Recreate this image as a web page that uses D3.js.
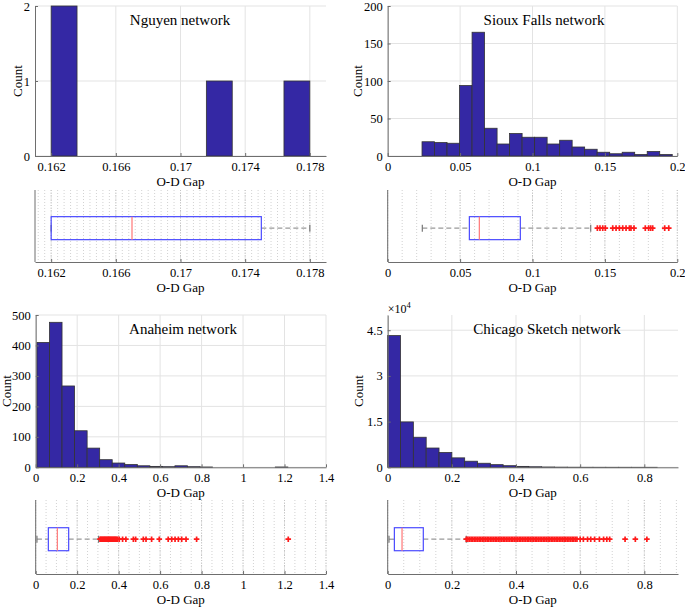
<!DOCTYPE html>
<html>
<head>
<meta charset="utf-8">
<script src="https://cdn.jsdelivr.net/npm/d3@7"></script>
<style>
body { margin: 0; background: #fff; }
</style>
</head>
<body>
<div id="chart"></div>
<script>
// histogram counts, equal width bins
var nguyenCounts = [2, 0, 0, 0, 0, 0, 1, 0, 0, 1];
var nguyenBinStart = 0.162, nguyenBinWidth = 0.0016;
var siouxCounts = [19, 18, 17, 94, 165, 37, 16, 30, 25, 25, 16, 21, 12, 9, 5, 3, 5, 2, 6, 2];
var siouxBinStart = 0.0237, siouxBinWidth = 0.00864;
var anaheimCounts = [410, 476, 267, 120, 63, 25, 14, 9, 5, 3, 2, 5, 2, 1, 0, 0, 0, 0, 0, 1];
var anaheimBinStart = 0.006, anaheimBinWidth = 0.0605;
var chicagoCounts = [43250, 14900, 9870, 6330, 4870, 3100, 2000, 1330, 870, 530, 300, 180, 100, 50, 25, 12, 6, 3, 2, 1, 1];
var chicagoBinStart = 0, chicagoBinWidth = 0.04;

// boxplot stats: lower whisker, q1, median, q3, upper whisker
var nguyenBox = [0.162, 0.162, 0.167, 0.175, 0.178];
var siouxBox = [0.0239, 0.0564, 0.0633, 0.0916, 0.1402];
var anaheimBox = [0.006, 0.061, 0.1045, 0.159, 0.303];
var chicagoBox = [0.004, 0.0208, 0.0447, 0.111, 0.245];

// outliers
var nguyenOut = [];
var siouxOut = [0.1448, 0.1466, 0.1485, 0.1503, 0.1554, 0.1577, 0.160, 0.1623, 0.1646, 0.1669, 0.168, 0.1701,
    0.1779, 0.1802, 0.1816, 0.183, 0.1913, 0.1941];
var anaheimOut = [0.31, 0.314, 0.318, 0.322, 0.326, 0.33, 0.334, 0.338, 0.342, 0.346, 0.35, 0.354, 0.358, 0.362,
    0.366, 0.37, 0.374, 0.378, 0.382, 0.386, 0.39, 0.395, 0.403, 0.419, 0.435, 0.471, 0.482, 0.519, 0.532,
    0.559, 0.596, 0.639, 0.656, 0.672, 0.688, 0.704, 0.725, 0.776, 1.218];
var chicagoOut = [0.245, 0.25, 0.255, 0.26, 0.265, 0.27, 0.275, 0.28, 0.285, 0.29, 0.295, 0.3, 0.305, 0.31,
    0.315, 0.32, 0.325, 0.33, 0.335, 0.34, 0.345, 0.35, 0.355, 0.36, 0.365, 0.37, 0.375, 0.38, 0.385, 0.39,
    0.395, 0.4, 0.405, 0.41, 0.415, 0.42, 0.425, 0.43, 0.435, 0.44, 0.445, 0.45, 0.455, 0.46, 0.465, 0.47,
    0.475, 0.48, 0.485, 0.49, 0.495, 0.5, 0.505, 0.51, 0.515, 0.52, 0.525, 0.53, 0.535, 0.54, 0.545, 0.55,
    0.555, 0.56, 0.565, 0.57, 0.575, 0.58, 0.585, 0.59, 0.600, 0.610, 0.623, 0.633, 0.645, 0.660, 0.673,
    0.683, 0.692, 0.740, 0.772, 0.808];

// tick values and labels
var nguyenXTicks = [0.162, 0.166, 0.17, 0.174, 0.178];
var nguyenYTicks = [0, 1, 2];
var siouxXTicks = [0, 0.05, 0.1, 0.15, 0.2];
var siouxYTicks = [0, 50, 100, 150, 200];
var anaheimXTicks = [0, 0.2, 0.4, 0.6, 0.8, 1, 1.2, 1.4];
var anaheimYTicks = [0, 100, 200, 300, 400, 500];
var chicagoXTicks = [0, 0.2, 0.4, 0.6, 0.8];
var chicagoYTicks = [0, 15000, 30000, 45000];
var chicagoYLabels = ["0", "1.5", "3", "4.5"];

var titles = ["Nguyen network", "Sioux Falls network", "Anaheim network", "Chicago Sketch network"];

var width = 685, height = 607;
var serif = '"Liberation Serif", "DejaVu Serif", "Times New Roman", serif';
var svg = d3.select('#chart').append('svg')
    .attr('width', width)
    .attr('height', height)
    .attr('font-family', serif);

var barFill = '#3428a4', axisCol = '#6e6e6e';

var panels = [
    { title: titles[0], titleX: 180, counts: nguyenCounts, b0: nguyenBinStart, bw: nguyenBinWidth,
      box: nguyenBox, out: nguyenOut, xt: nguyenXTicks, yt: nguyenYTicks, yl: null,
      xdom: [0.161, 0.179], ydom: [0, 2], minor: 0.0004,
      x0: 35, x1: 326, hy0: 6, hy1: 156, by0: 190, by1: 262, countX: 22 },
    { title: titles[1], titleX: 544, counts: siouxCounts, b0: siouxBinStart, bw: siouxBinWidth,
      box: siouxBox, out: siouxOut, xt: siouxXTicks, yt: siouxYTicks, yl: null,
      xdom: [0, 0.2], ydom: [0, 200], minor: 0.01,
      x0: 387.7, x1: 677.3, hy0: 6, hy1: 156, by0: 190, by1: 262, countX: 362 },
    { title: titles[2], titleX: 183, counts: anaheimCounts, b0: anaheimBinStart, bw: anaheimBinWidth,
      box: anaheimBox, out: anaheimOut, xt: anaheimXTicks, yt: anaheimYTicks, yl: null,
      xdom: [0, 1.4], ydom: [0, 500], minor: 0.05,
      x0: 35.7, x1: 326, hy0: 315, hy1: 467.3, by0: 500, by1: 574, countX: 11 },
    { title: titles[3], titleX: 547, counts: chicagoCounts, b0: chicagoBinStart, bw: chicagoBinWidth,
      box: chicagoBox, out: chicagoOut, xt: chicagoXTicks, yt: chicagoYTicks, yl: chicagoYLabels,
      xdom: [0, 0.905], ydom: [0, 50000], minor: 0.05,
      x0: 387.7, x1: 678, hy0: 315, hy1: 467.3, by0: 500, by1: 574, countX: 363 }
];

var fmt = function (v) { return String(+v.toFixed(4)); };

function styleAxis(a) {
    a.attr('font-family', serif);
    a.select('.domain').attr('stroke', axisCol);
    a.selectAll('.tick line').attr('stroke', axisCol);
    a.selectAll('.tick text').attr('font-family', serif).style('font-size', '12.5px').attr('fill', '#000');
}

panels.forEach(function (p) {
    var x = d3.scaleLinear().domain(p.xdom).range([p.x0, p.x1]);
    var y = d3.scaleLinear().domain(p.ydom).range([p.hy1, p.hy0]);

    // ---- histogram ----
    var g = svg.append('g');
    g.selectAll('.gx').data(p.xt).enter().append('line')
        .attr('x1', function (d) { return x(d); }).attr('x2', function (d) { return x(d); })
        .attr('y1', p.hy0).attr('y2', p.hy1)
        .attr('stroke', '#e3e3e3');
    g.selectAll('.gy').data(p.yt).enter().append('line')
        .attr('x1', p.x0).attr('x2', p.x1)
        .attr('y1', function (d) { return y(d); }).attr('y2', function (d) { return y(d); })
        .attr('stroke', '#e3e3e3');

    g.selectAll('rect').data(p.counts).enter().append('rect')
        .attr('x', function (d, i) { return x(p.b0 + i * p.bw); })
        .attr('width', function (d, i) { return x(p.b0 + (i + 1) * p.bw) - x(p.b0 + i * p.bw); })
        .attr('y', function (d) { return y(d); })
        .attr('height', function (d) { return p.hy1 - y(d); })
        .attr('fill', barFill)
        .attr('stroke', function (d) { return d > 0 ? '#333' : 'none'; })
        .attr('stroke-width', 0.8);

    var xAxis = d3.axisBottom(x).tickValues(p.xt).tickFormat(fmt).tickSizeInner(-3).tickSizeOuter(0).tickPadding(6);
    var ax = g.append('g').attr('transform', 'translate(0,' + p.hy1 + ')').call(xAxis);
    var yAxis = d3.axisLeft(y).tickValues(p.yt).tickSizeInner(-3).tickSizeOuter(0).tickPadding(5)
        .tickFormat(function (d, i) { return p.yl ? p.yl[i] : fmt(d); });
    var ay = g.append('g').attr('transform', 'translate(' + p.x0 + ',0)').call(yAxis);
    styleAxis(ax);
    styleAxis(ay);

    g.append('text').attr('x', p.titleX).attr('y', p.hy0 + 19)
        .attr('text-anchor', 'middle').style('font-size', '15px').text(p.title);
    g.append('text')
        .attr('transform', 'translate(' + p.countX + ',' + ((p.hy0 + p.hy1) / 2) + ') rotate(-90)')
        .attr('text-anchor', 'middle').style('font-size', '13px').text('Count');
    g.append('text').attr('x', (p.x0 + p.x1) / 2).attr('y', p.hy1 + 30)
        .attr('text-anchor', 'middle').style('font-size', '13px').text('O-D Gap');

    if (p.yl) {
        var ex = g.append('text').attr('x', p.x0).attr('y', p.hy0 - 2).style('font-size', '12px');
        ex.append('tspan').text('\u00d710');
        ex.append('tspan').attr('dy', -5).style('font-size', '8.5px').text('4');
    }

    // ---- boxplot ----
    var b = svg.append('g');
    var minorTicks = d3.range(Math.ceil(p.xdom[0] / p.minor) * p.minor, p.xdom[1] + 1e-9, p.minor);
    b.selectAll('.mg').data(minorTicks).enter().append('line')
        .attr('x1', function (d) { return x(d); }).attr('x2', function (d) { return x(d); })
        .attr('y1', p.by0).attr('y2', p.by1)
        .attr('stroke', '#d2d2d2').attr('stroke-dasharray', '1,2');
    b.selectAll('.Mg').data(p.xt).enter().append('line')
        .attr('x1', function (d) { return x(d); }).attr('x2', function (d) { return x(d); })
        .attr('y1', p.by0).attr('y2', p.by1)
        .attr('stroke', '#c4c4c4').attr('stroke-dasharray', '1,1.5');

    var cy = p.by0 + (p.by1 - p.by0) * 0.53, bh = 11.5;
    var s = p.box;
    // whiskers
    b.append('line').attr('x1', x(s[0])).attr('x2', x(s[1])).attr('y1', cy).attr('y2', cy)
        .attr('stroke', '#999').attr('stroke-dasharray', '5,3').attr('stroke-width', 1.3);
    b.append('line').attr('x1', x(s[3])).attr('x2', x(s[4])).attr('y1', cy).attr('y2', cy)
        .attr('stroke', '#999').attr('stroke-dasharray', '5,3').attr('stroke-width', 1.3);
    [s[0], s[4]].forEach(function (v) {
        b.append('line').attr('x1', x(v)).attr('x2', x(v)).attr('y1', cy - 3.5).attr('y2', cy + 3.5)
            .attr('stroke', '#777').attr('stroke-width', 1.2);
    });
    b.append('rect').attr('x', x(s[1])).attr('y', cy - bh)
        .attr('width', x(s[3]) - x(s[1])).attr('height', 2 * bh)
        .attr('fill', 'none').attr('stroke', '#4a4aff').attr('stroke-width', 1.2);
    b.append('line').attr('x1', x(s[2])).attr('x2', x(s[2])).attr('y1', cy - bh).attr('y2', cy + bh)
        .attr('stroke', '#ff8080').attr('stroke-width', 1.3);

    b.selectAll('.out').data(p.out).enter().append('path')
        .attr('d', function (d) {
            var px = x(d);
            return 'M' + (px - 2.8) + ',' + cy + 'H' + (px + 2.8) + 'M' + px + ',' + (cy - 2.8) + 'V' + (cy + 2.8);
        })
        .attr('stroke', '#ff1a1a').attr('stroke-width', 1.7).attr('fill', 'none');

    var bxAxis = d3.axisBottom(x).tickValues(p.xt).tickFormat(fmt).tickSizeInner(-3).tickSizeOuter(0).tickPadding(6);
    var bax = b.append('g').attr('transform', 'translate(0,' + p.by1 + ')').call(bxAxis);
    styleAxis(bax);
    b.append('line').attr('x1', p.x0).attr('x2', p.x0).attr('y1', p.by0).attr('y2', p.by1)
        .attr('stroke', axisCol);
    b.append('text').attr('x', (p.x0 + p.x1) / 2).attr('y', p.by1 + 30)
        .attr('text-anchor', 'middle').style('font-size', '13px').text('O-D Gap');
});
</script>
</body>
</html>
